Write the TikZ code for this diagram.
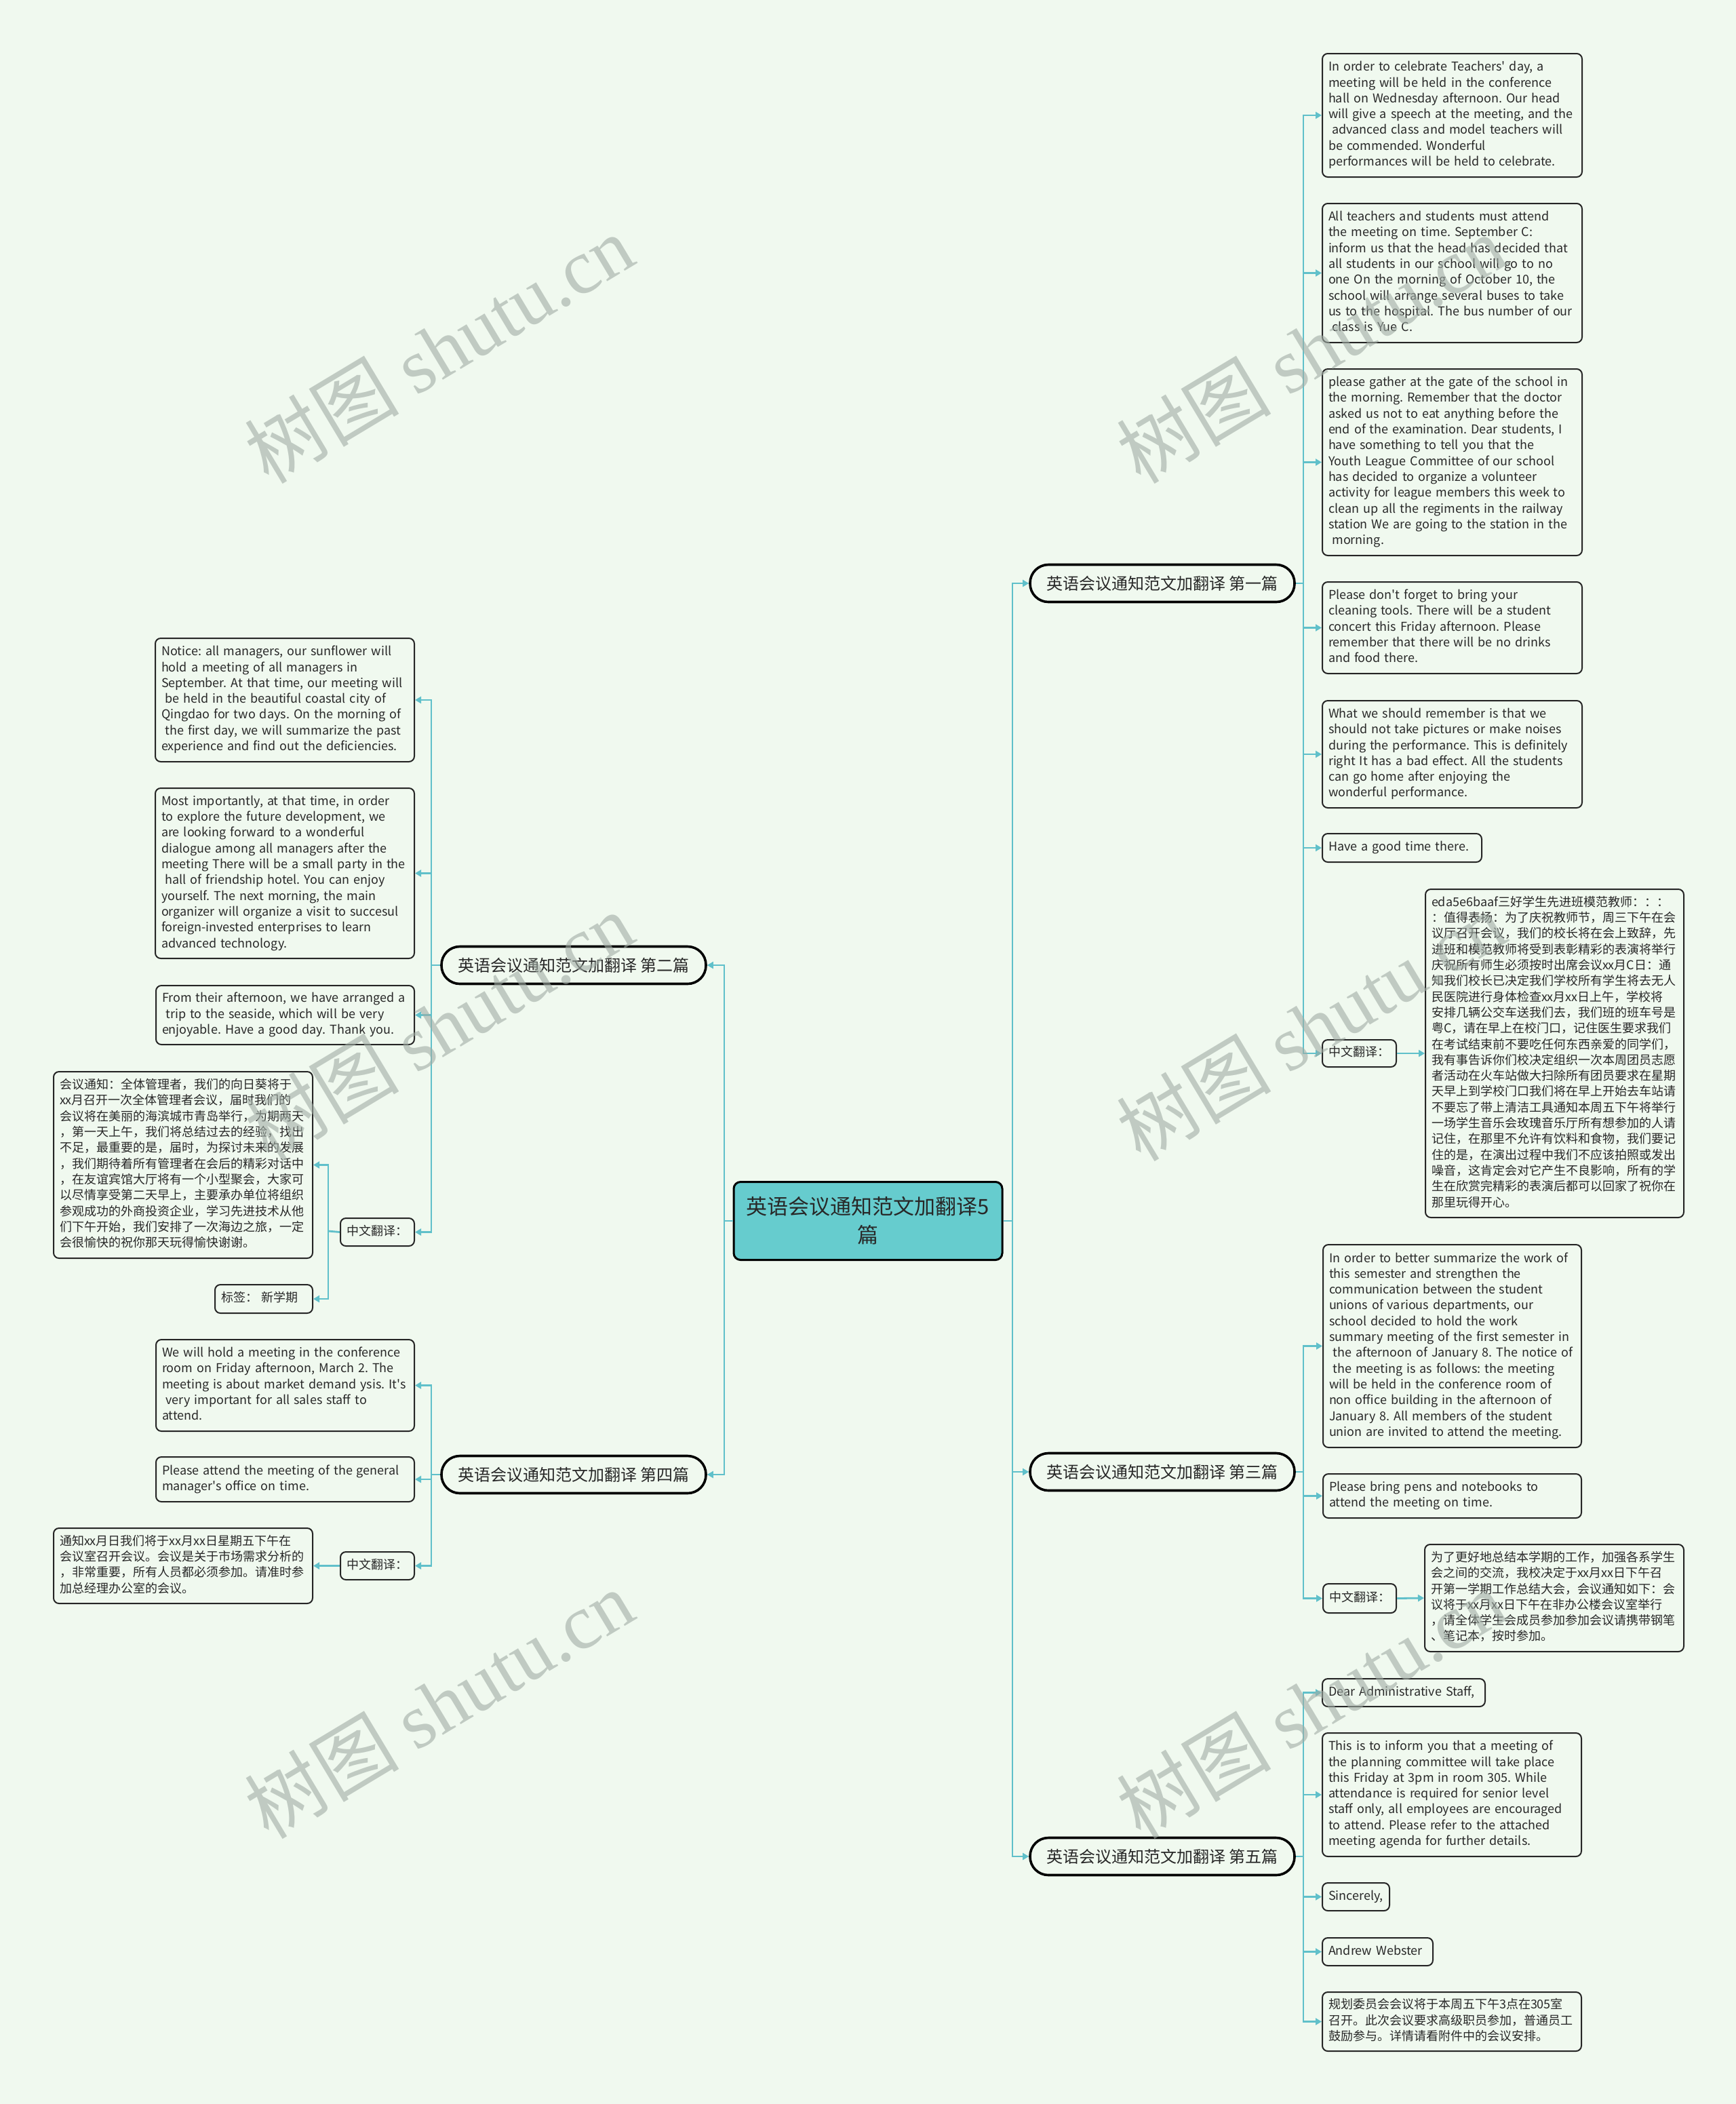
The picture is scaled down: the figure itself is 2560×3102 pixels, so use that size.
\documentclass[tikz,border=0pt]{standalone}
\usepackage{fontspec}
\setmainfont{Noto Sans CJK SC}[Ligatures=TeXOff]
\newfontfamily\wmlatin{Liberation Serif}
\usetikzlibrary{arrows.meta}
\definecolor{bgc}{RGB}{240,249,239}
\definecolor{tealc}{RGB}{96,192,202}
\definecolor{rootc}{RGB}{102,204,206}
\definecolor{txtc}{RGB}{40,40,40}
\definecolor{wmc}{RGB}{160,172,164}
\newcommand\tl[1]{\begin{tabular}{@{}l@{}}#1\end{tabular}}
\newcommand\ind{\hspace*{0.3em}}
\newcommand\lbox[7][]{%
  \pgfmathsetmacro\bw{(#5-#3)*0.5-9}%
  \pgfmathsetmacro\bh{(#6-#4)*0.5}%
  \node[leaf,#1,text width=\bw pt,minimum height=\bh pt,anchor=north west] (#2) at (#3,#4) {\tl{#7}};}
\tikzset{
  leaf/.style={draw=black!85, line width=1pt, rounded corners=4pt, fill=bgc, inner xsep=4.5pt, inner ysep=0pt, align=left, font=\fontsize{9}{11.65}\selectfont\frenchspacing, text=txtc},
  branch/.style={draw=black, line width=1.8pt, rounded corners=13.5pt, fill=bgc, minimum width=195pt, minimum height=27.5pt, inner sep=0pt, font=\fontsize{12}{14}\selectfont, text=txtc},
  root/.style={draw=black, line width=1.5pt, rounded corners=5pt, fill=rootc, minimum width=198pt, minimum height=57.5pt, align=center, font=\fontsize{15.5}{21}\selectfont, text=txtc},
  conn/.style={draw=tealc, line width=1.4pt, -{Triangle[length=4.5pt,width=5pt]}},
  trunk/.style={draw=tealc, line width=1.4pt},
  wm/.style={rotate=31, font=\fontsize{57}{57}\selectfont, text=wmc, text opacity=0.6}
}
\begin{document}
\begin{tikzpicture}[x=0.5pt,y=-0.5pt]
\fill[bgc] (0,0) rectangle (2560,3102);
\useasboundingbox (0,0) rectangle (2560,3102);

% root and branches
\node[root] (root) at (1280,1800) {英语会议通知范文加翻译5\\篇};
\node[branch] (b1) at (1714,860) {英语会议通知范文加翻译 第一篇};
\node[branch] (b3) at (1714,2170) {英语会议通知范文加翻译 第三篇};
\node[branch] (b5) at (1714,2737) {英语会议通知范文加翻译 第五篇};
\node[branch] (b2) at (846,1423) {英语会议通知范文加翻译 第二篇};
\node[branch] (b4) at (846,2174) {英语会议通知范文加翻译 第四篇};

% branch 1 leaves
\lbox{c1a}{1949}{78}{2332}{260}{In order to celebrate Teachers' day, a\\meeting will be held in the conference\\hall on Wednesday afternoon. Our head\\will give a speech at the meeting, and the\\\ind advanced class and model teachers will\\be commended. Wonderful\\performances will be held to celebrate.}
\lbox{c1b}{1949}{299}{2332}{504}{All teachers and students must attend\\the meeting on time. September C:\\inform us that the head has decided that\\all students in our school will go to no\\one On the morning of October 10, the\\school will arrange several buses to take\\us to the hospital. The bus number of our\\\ind class is Yue C.}
\lbox{c1c}{1949}{543}{2332}{818}{please gather at the gate of the school in\\the morning. Remember that the doctor\\asked us not to eat anything before the\\end of the examination. Dear students, I\\have something to tell you that the\\Youth League Committee of our school\\has decided to organize a volunteer\\activity for league members this week to\\clean up all the regiments in the railway\\station We are going to the station in the\\\ind morning.}
\lbox{c1d}{1949}{857}{2332}{992}{Please don't forget to bring your\\cleaning tools. There will be a student\\concert this Friday afternoon. Please\\remember that there will be no drinks\\and food there.}
\lbox{c1e}{1949}{1032}{2332}{1190}{What we should remember is that we\\should not take pictures or make noises\\during the performance. This is definitely\\right It has a bad effect. All the students\\can go home after enjoying the\\wonderful performance.}
\lbox{c1f}{1949}{1228}{2184}{1270}{Have a good time there.}
\lbox{c1g}{1949}{1532}{2058}{1572}{中文翻译：}
\lbox{c1h}{2101}{1310}{2482}{1794}{eda5e6baaf三好学生先进班模范教师：：：\\：值得表扬：为了庆祝教师节，周三下午在会\\议厅召开会议，我们的校长将在会上致辞，先\\进班和模范教师将受到表彰精彩的表演将举行\\庆祝所有师生必须按时出席会议xx月C日：通\\知我们校长已决定我们学校所有学生将去无人\\民医院进行身体检查xx月xx日上午，学校将\\安排几辆公交车送我们去，我们班的班车号是\\粤C，请在早上在校门口，记住医生要求我们\\在考试结束前不要吃任何东西亲爱的同学们，\\我有事告诉你们校决定组织一次本周团员志愿\\者活动在火车站做大扫除所有团员要求在星期\\天早上到学校门口我们将在早上开始去车站请\\不要忘了带上清洁工具通知本周五下午将举行\\一场学生音乐会玫瑰音乐厅所有想参加的人请\\记住，在那里不允许有饮料和食物，我们要记\\住的是，在演出过程中我们不应该拍照或发出\\噪音，这肯定会对它产生不良影响，所有的学\\生在欣赏完精彩的表演后都可以回家了祝你在\\那里玩得开心。}

% branch 3 leaves
\lbox{c3a}{1950}{1834}{2331}{2133}{In order to better summarize the work of\\this semester and strengthen the\\communication between the student\\unions of various departments, our\\school decided to hold the work\\summary meeting of the first semester in\\\ind the afternoon of January 8. The notice of\\\ind the meeting is as follows: the meeting\\will be held in the conference room of\\non office building in the afternoon of\\January 8. All members of the student\\union are invited to attend the meeting.}
\lbox{c3b}{1950}{2172}{2331}{2237}{Please bring pens and notebooks to\\attend the meeting on time.}
\lbox{c3c}{1950}{2334}{2058}{2377}{中文翻译：}
\lbox{c3d}{2100}{2276}{2482}{2434}{为了更好地总结本学期的工作，加强各系学生\\会之间的交流，我校决定于xx月xx日下午召\\开第一学期工作总结大会，会议通知如下：会\\议将于xx月xx日下午在非办公楼会议室举行\\，请全体学生会成员参加参加会议请携带钢笔\\、笔记本，按时参加。}

% branch 5 leaves
\lbox{c5a}{1949}{2474}{2189}{2515}{Dear Administrative Staff,}
\lbox{c5b}{1949}{2554}{2331}{2736}{This is to inform you that a meeting of\\the planning committee will take place\\this Friday at 3pm in room 305. While\\attendance is required for senior level\\staff only, all employees are encouraged\\to attend. Please refer to the attached\\meeting agenda for further details.}
\lbox{c5c}{1949}{2775}{2048}{2816}{Sincerely,}
\lbox{c5d}{1949}{2856}{2112}{2897}{Andrew Webster}
\lbox{c5e}{1949}{2936}{2331}{3023}{规划委员会会议将于本周五下午3点在305室\\召开。此次会议要求高级职员参加，普通员工\\鼓励参与。详情请看附件中的会议安排。}

% branch 2 leaves
\lbox{c2a}{228}{940}{610}{1122}{Notice: all managers, our sunflower will\\hold a meeting of all managers in\\September. At that time, our meeting will\\\ind be held in the beautiful coastal city of\\Qingdao for two days. On the morning of\\\ind the first day, we will summarize the past\\experience and find out the deficiencies.}
\lbox{c2b}{228}{1161}{610}{1412}{Most importantly, at that time, in order\\to explore the future development, we\\are looking forward to a wonderful\\dialogue among all managers after the\\meeting There will be a small party in the\\\ind hall of friendship hotel. You can enjoy\\yourself. The next morning, the main\\organizer will organize a visit to succesul\\foreign-invested enterprises to learn\\advanced technology.}
\lbox{c2c}{229}{1452}{610}{1539}{From their afternoon, we have arranged a\\\ind trip to the seaside, which will be very\\enjoyable. Have a good day. Thank you.}
\lbox{c2d}{501}{1795}{610}{1836}{中文翻译：}
\lbox{c2e}{78}{1579}{460}{1854}{会议通知：全体管理者，我们的向日葵将于\\xx月召开一次全体管理者会议，届时我们的\\会议将在美丽的海滨城市青岛举行，为期两天\\，第一天上午，我们将总结过去的经验，找出\\不足，最重要的是，届时，为探讨未来的发展\\，我们期待着所有管理者在会后的精彩对话中\\，在友谊宾馆大厅将有一个小型聚会，大家可\\以尽情享受第二天早上，主要承办单位将组织\\参观成功的外商投资企业，学习先进技术从他\\们下午开始，我们安排了一次海边之旅，一定\\会很愉快的祝你那天玩得愉快谢谢。}
\lbox{c2f}{316}{1893}{460}{1935}{标签：\ 新学期}

% branch 4 leaves
\lbox{c4a}{229}{1974}{610}{2109}{We will hold a meeting in the conference\\room on Friday afternoon, March 2. The\\meeting is about market demand ysis. It's\\\ind very important for all sales staff to\\attend.}
\lbox{c4b}{229}{2147}{610}{2213}{Please attend the meeting of the general\\manager's office on time.}
\lbox{c4c}{501}{2287}{610}{2328}{中文翻译：}
\lbox{c4d}{78}{2252}{460}{2363}{通知xx月日我们将于xx月xx日星期五下午在\\会议室召开会议。会议是关于市场需求分析的\\，非常重要，所有人员都必须参加。请准时参\\加总经理办公室的会议。}

% connectors: root
\coordinate (rt) at (1493,1800);
\coordinate (lt) at (1068,1800);
\draw[trunk] (root.east) -- (rt);
\draw[trunk] (root.west) -- (lt);
\foreach \b in {b1,b3,b5} \draw[conn] (rt) |- (\b.west);
\foreach \b in {b2,b4} \draw[conn] (lt) |- (\b.east);

% branch 1
\coordinate (t1) at (1922,860);
\draw[trunk] (b1.east) -- (t1);
\foreach \c in {c1a,c1b,c1c,c1d,c1e,c1f,c1g} \draw[conn] (t1) |- (\c.west);
\draw[conn] (c1g.east) -- (c1h.west);

% branch 3
\coordinate (t3) at (1922,2170);
\draw[trunk] (b3.east) -- (t3);
\foreach \c in {c3a,c3b,c3c} \draw[conn] (t3) |- (\c.west);
\draw[conn] (c3c.east) -- (c3d.west);

% branch 5
\coordinate (t5) at (1922,2737);
\draw[trunk] (b5.east) -- (t5);
\foreach \c in {c5a,c5b,c5c,c5d,c5e} \draw[conn] (t5) |- (\c.west);

% branch 2
\coordinate (t2) at (636,1423);
\draw[trunk] (b2.west) -- (t2);
\foreach \c in {c2a,c2b,c2c,c2d} \draw[conn] (t2) |- (\c.east);
\coordinate (s2) at (484,1815);
\draw[trunk] (c2d.west) -- (s2);
\foreach \c in {c2e,c2f} \draw[conn] (s2) |- (\c.east);

% branch 4
\coordinate (t4) at (636,2174);
\draw[trunk] (b4.west) -- (t4);
\foreach \c in {c4a,c4b,c4c} \draw[conn] (t4) |- (\c.east);
\draw[conn] (c4c.west) -- (c4d.east);

% watermarks
\foreach \wx/\wy [count=\i] in {647/514,1933/514,647/1513,1933/1513,647/2512,1933/2512}
  \node[wm] (wm\i) at (\wx,\wy) {树图 {\wmlatin shutu.cn}};
\end{tikzpicture}
\end{document}
